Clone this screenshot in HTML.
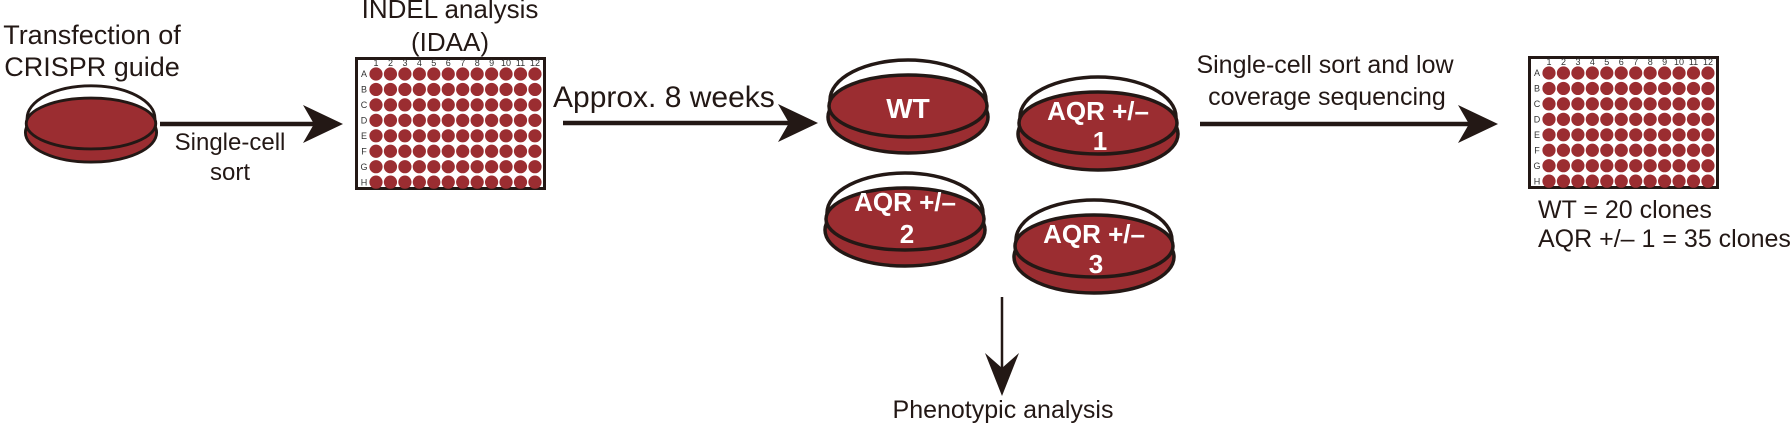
<!DOCTYPE html>
<html><head><meta charset="utf-8"><style>
html,body{margin:0;padding:0;background:#fff;}
svg{display:block;}
text{font-family:"Liberation Sans",Arial,sans-serif;}
.t{fill:#231815;}
.w{fill:#fff;font-weight:bold;}
.n{font-size:9px;fill:#333;}
</style></head><body>
<svg id="s" width="1791" height="426" viewBox="0 0 1791 426" xmlns="http://www.w3.org/2000/svg">
<defs>
<g id="dish">
  <ellipse cx="0" cy="41" rx="78" ry="40" fill="#fff" stroke="#231815" stroke-width="3.5"/>
  <ellipse cx="0" cy="58" rx="80" ry="36" fill="#9b2d31" stroke="#231815" stroke-width="3.5"/>
  <ellipse cx="0" cy="47" rx="79" ry="31" fill="#9b2d31" stroke="#231815" stroke-width="3.5"/>
</g>
</defs>

<!-- left dish -->
<g transform="translate(91,85) scale(0.82)"><use href="#dish"/></g>
<text class="t" x="92" y="44" font-size="27" text-anchor="middle">Transfection of</text>
<text class="t" x="92" y="76" font-size="27" text-anchor="middle">CRISPR guide</text>

<!-- arrow 1 -->
<line x1="160" y1="124" x2="315" y2="124" stroke="#231815" stroke-width="4.5"/>
<path d="M343,124 L303,105 L314,124 L303,143 Z" fill="#231815"/>
<text class="t" x="230" y="150" font-size="24" text-anchor="middle">Single-cell</text>
<text class="t" x="230" y="180" font-size="24" text-anchor="middle">sort</text>

<!-- plate 1 -->
<text class="t" x="450" y="18" font-size="26" text-anchor="middle">INDEL analysis</text>
<text class="t" x="450" y="51" font-size="26" text-anchor="middle">(IDAA)</text>
<g id="p1" transform="translate(355,57)">
  <rect x="1.5" y="1.5" width="188" height="130" fill="#fff" stroke="#231815" stroke-width="3"/>
  <g class="n" text-anchor="middle">
  <text x="21" y="9" class="n">1</text><text x="35.5" y="9" class="n">2</text><text x="50" y="9" class="n">3</text><text x="64.4" y="9" class="n">4</text><text x="78.8" y="9" class="n">5</text><text x="93.3" y="9" class="n">6</text><text x="107.7" y="9" class="n">7</text><text x="122.2" y="9" class="n">8</text><text x="136.6" y="9" class="n">9</text><text x="151" y="9" class="n">10</text><text x="165.5" y="9" class="n">11</text><text x="180" y="9" class="n">12</text>
  <text x="9" y="20" class="n">A</text><text x="9" y="35.5" class="n">B</text><text x="9" y="51" class="n">C</text><text x="9" y="66.5" class="n">D</text><text x="9" y="82" class="n">E</text><text x="9" y="97.5" class="n">F</text><text x="9" y="113" class="n">G</text><text x="9" y="128.5" class="n">H</text>
  </g>
  <g class="wells"></g>
</g>

<!-- arrow 2 -->
<text class="t" x="553" y="107" font-size="30">Approx. 8 weeks</text>
<line x1="563" y1="123" x2="790" y2="123" stroke="#231815" stroke-width="4.5"/>
<path d="M818,123 L778,104 L789,123 L778,142 Z" fill="#231815"/>

<!-- dishes -->
<g transform="translate(908,59)"><use href="#dish"/></g>
<text class="w" x="908" y="118" font-size="28" text-anchor="middle">WT</text>

<g transform="translate(1098,76)"><use href="#dish"/></g>
<text class="w" x="1098" y="120" font-size="26" text-anchor="middle">AQR +/–</text>
<text class="w" x="1100" y="150" font-size="26" text-anchor="middle">1</text>

<g transform="translate(905,172)"><use href="#dish"/></g>
<text class="w" x="905" y="211" font-size="26" text-anchor="middle">AQR +/–</text>
<text class="w" x="907" y="243" font-size="26" text-anchor="middle">2</text>

<g transform="translate(1094,199)"><use href="#dish"/></g>
<text class="w" x="1094" y="243" font-size="26" text-anchor="middle">AQR +/–</text>
<text class="w" x="1096" y="273" font-size="26" text-anchor="middle">3</text>

<!-- down arrow -->
<line x1="1002" y1="297" x2="1002" y2="370" stroke="#231815" stroke-width="2.5"/>
<path d="M1002,396 L985,353 L1002,368 L1019,353 Z" fill="#231815"/>
<text class="t" x="1003" y="418" font-size="25" text-anchor="middle">Phenotypic analysis</text>

<!-- arrow 3 -->
<text class="t" x="1325" y="73" font-size="25" text-anchor="middle">Single-cell sort and low</text>
<text class="t" x="1327" y="105" font-size="25" text-anchor="middle">coverage sequencing</text>
<line x1="1200" y1="124" x2="1470" y2="124" stroke="#231815" stroke-width="4.5"/>
<path d="M1498,124 L1458,105 L1469,124 L1458,143 Z" fill="#231815"/>

<!-- plate 2 -->
<g id="p2" transform="translate(1528,56)">
  <rect x="1.5" y="1.5" width="188" height="130" fill="#fff" stroke="#231815" stroke-width="3"/>
  <g text-anchor="middle">
  <text x="21" y="9" class="n">1</text><text x="35.5" y="9" class="n">2</text><text x="50" y="9" class="n">3</text><text x="64.4" y="9" class="n">4</text><text x="78.8" y="9" class="n">5</text><text x="93.3" y="9" class="n">6</text><text x="107.7" y="9" class="n">7</text><text x="122.2" y="9" class="n">8</text><text x="136.6" y="9" class="n">9</text><text x="151" y="9" class="n">10</text><text x="165.5" y="9" class="n">11</text><text x="180" y="9" class="n">12</text>
  <text x="9" y="20" class="n">A</text><text x="9" y="35.5" class="n">B</text><text x="9" y="51" class="n">C</text><text x="9" y="66.5" class="n">D</text><text x="9" y="82" class="n">E</text><text x="9" y="97.5" class="n">F</text><text x="9" y="113" class="n">G</text><text x="9" y="128.5" class="n">H</text>
  </g>
  <g class="wells"></g>
</g>
<text class="t" x="1538" y="218" font-size="25">WT = 20 clones</text>
<text class="t" x="1538" y="247" font-size="25">AQR +/– 1 = 35 clones</text>
</svg>
<script>
document.querySelectorAll('.wells').forEach(function(g){
  var s='';
  for(var r=0;r<8;r++)for(var c=0;c<12;c++){
    s+='<circle cx="'+(21+c*14.45).toFixed(2)+'" cy="'+(17+r*15.45).toFixed(2)+'" r="6.6" fill="#9b2d31"/>';
  }
  g.innerHTML=s;
});
</script>
</body></html>
